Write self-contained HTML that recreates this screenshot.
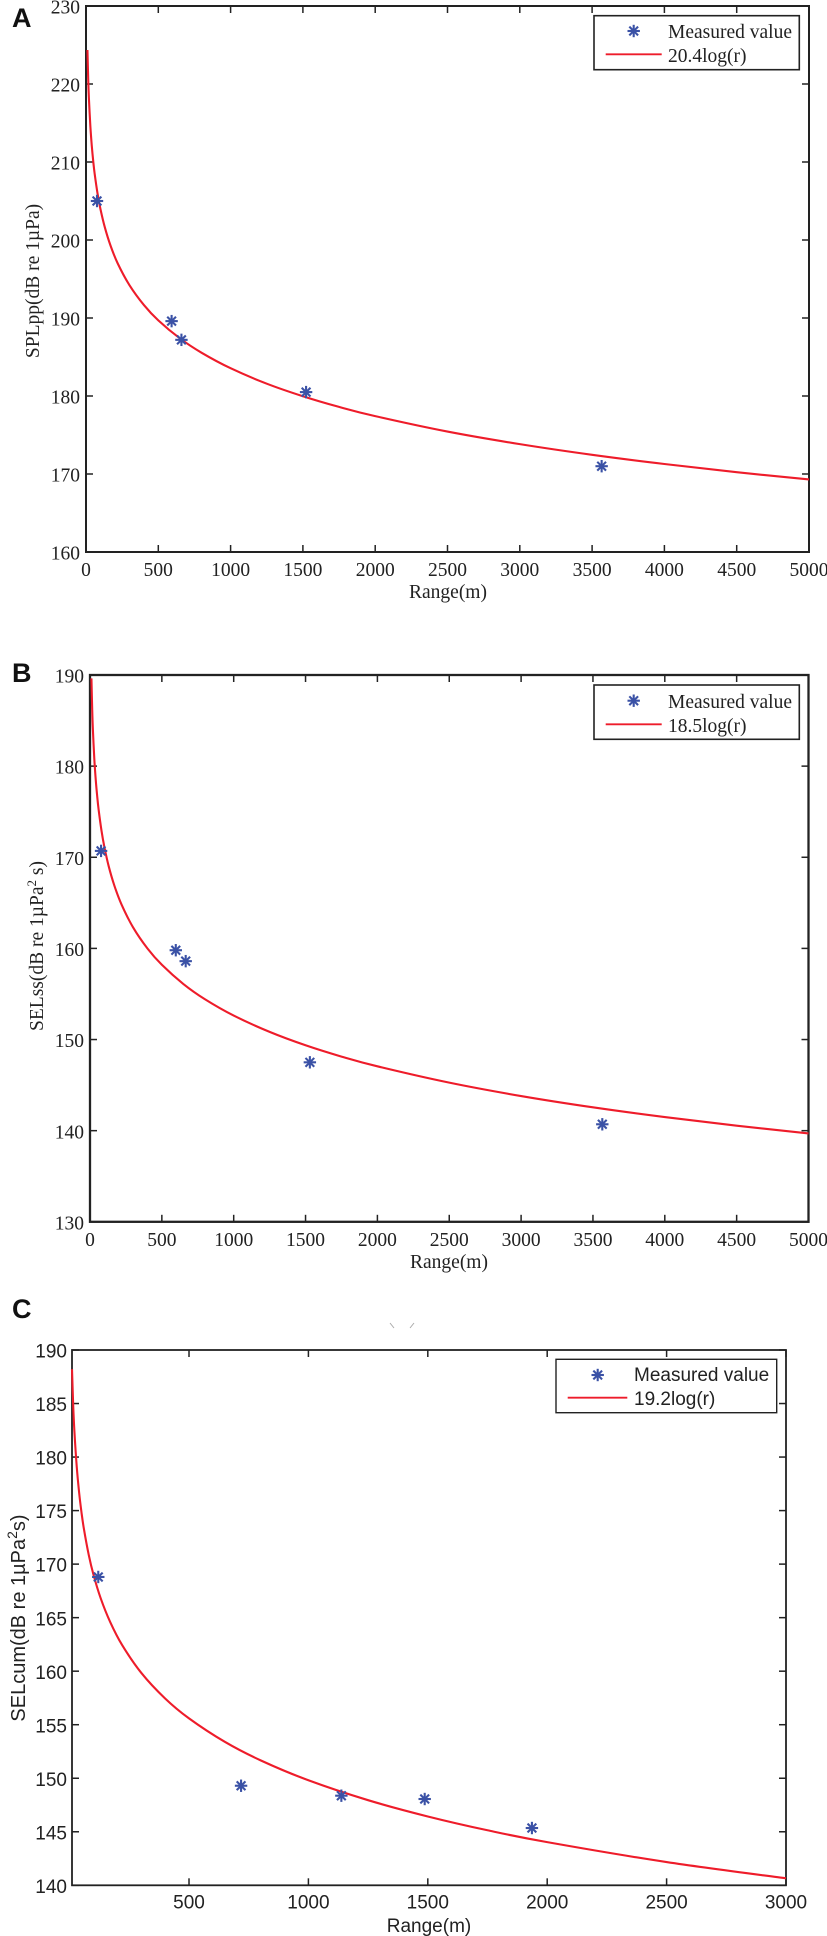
<!DOCTYPE html>
<html lang="en">
<head>
<meta charset="utf-8">
<title>Sound level versus range</title>
<style>
html,body{margin:0;padding:0;background:#fff;}
svg{display:block;}
.serif{font-family:"Liberation Serif",serif;font-size:19.5px;fill:#222;}
.sans{font-family:"Liberation Sans",sans-serif;font-size:19px;fill:#222;}
.panel{font-family:"Liberation Sans",sans-serif;font-size:27px;font-weight:bold;fill:#111;}
</style>
</head>
<body>
<svg id="figure" xmlns="http://www.w3.org/2000/svg" width="827" height="1936" viewBox="0 0 827 1936">
  <rect x="0" y="0" width="827" height="1936" fill="#fff"/>

  <text class="panel" x="12" y="27">A</text>
  <text class="panel" x="12" y="682">B</text>
  <text class="panel" x="12" y="1318">C</text>

  <text class="serif" text-anchor="middle" transform="translate(39,281) rotate(-90)">SPLpp(dB re 1µPa)</text>
  <text class="serif" text-anchor="middle" x="448" y="598">Range(m)</text>

  <text class="serif" text-anchor="middle" transform="translate(43,946) rotate(-90)">SELss(dB re 1µPa<tspan dy="-7" font-size="13">2</tspan><tspan dy="7"> s)</tspan></text>
  <text class="serif" text-anchor="middle" x="449" y="1268">Range(m)</text>

  <text class="sans" text-anchor="middle" style="font-size:20px" transform="translate(25,1618) rotate(-90)">SELcum(dB re 1µPa<tspan dy="-8" font-size="14">2</tspan><tspan dy="8">s)</tspan></text>
  <text class="sans" text-anchor="middle" x="429" y="1932">Range(m)</text>

  <g stroke="#aaa" stroke-width="1">
    <line x1="390" y1="1323" x2="394" y2="1328"/>
    <line x1="414" y1="1323" x2="410" y2="1328"/>
  </g>

  <g id="plot-a"></g>
  <g id="plot-b"></g>
  <g id="plot-c"></g>

  <g id="legend-a">
    <rect x="594" y="15.7" width="205.3" height="54" fill="#fff" stroke="#222" stroke-width="1.6"/>
    <text class="serif" x="668" y="38">Measured value</text>
    <line x1="605.7" y1="54.3" x2="661.7" y2="54.3" stroke="#ee1c2a" stroke-width="1.8"/>
    <text class="serif" x="668" y="62">20.4log(r)</text>
  </g>
  <g id="legend-b">
    <rect x="594" y="685" width="205.3" height="54.3" fill="#fff" stroke="#222" stroke-width="1.6"/>
    <text class="serif" x="668" y="708">Measured value</text>
    <line x1="605.7" y1="724.3" x2="661.7" y2="724.3" stroke="#ee1c2a" stroke-width="1.8"/>
    <text class="serif" x="668" y="732">18.5log(r)</text>
  </g>
  <g id="legend-c">
    <rect x="556" y="1359.3" width="220.7" height="53.4" fill="#fff" stroke="#222" stroke-width="1.4"/>
    <text class="sans" x="634" y="1381">Measured value</text>
    <line x1="567.7" y1="1397.7" x2="627.3" y2="1397.7" stroke="#ee1c2a" stroke-width="1.8"/>
    <text class="sans" x="634" y="1405">19.2log(r)</text>
  </g>
</svg>

<script>
// ---- Chart data ----
const ticksXA = [0, 500, 1000, 1500, 2000, 2500, 3000, 3500, 4000, 4500, 5000];
const ticksYA = [160, 170, 180, 190, 200, 210, 220, 230];
const measuredRangeA = [76, 592, 660, 1522, 3566];
const measuredLevelA = [205, 189.6, 187.2, 180.5, 171];
const curveRangeA = [10, 15, 20, 30, 40, 50, 60, 80, 100, 130, 170, 220, 300, 400, 500, 650, 800, 1000, 1250, 1500, 1750, 2000, 2500, 3000, 3500, 4000, 4500, 5000];
const curveLevelA = [224.36, 220.77, 218.22, 214.63, 212.08, 210.1, 208.48, 205.94, 203.96, 201.64, 199.26, 196.97, 194.23, 191.68, 189.7, 187.38, 185.54, 183.56, 181.58, 179.97, 178.6, 177.42, 175.44, 173.83, 172.46, 171.28, 170.23, 169.3];

const ticksXB = [0, 500, 1000, 1500, 2000, 2500, 3000, 3500, 4000, 4500, 5000];
const ticksYB = [130, 140, 150, 160, 170, 180, 190];
const measuredRangeB = [77, 597, 666, 1530, 3565];
const measuredLevelB = [170.7, 159.8, 158.6, 147.5, 140.7];
const curveRangeB = [10, 15, 20, 30, 40, 50, 60, 80, 100, 130, 170, 220, 300, 400, 500, 650, 800, 1000, 1250, 1500, 1750, 2000, 2500, 3000, 3500, 4000, 4500, 5000];
const curveLevelB = [189.63, 186.37, 184.06, 180.8, 178.49, 176.7, 175.23, 172.92, 171.13, 169.02, 166.87, 164.8, 162.3, 159.99, 158.2, 156.09, 154.42, 152.63, 150.84, 149.37, 148.13, 147.06, 145.27, 143.8, 142.56, 141.49, 140.55, 139.7];

const ticksXC = [500, 1000, 1500, 2000, 2500, 3000];
const ticksYC = [140, 145, 150, 155, 160, 165, 170, 175, 180, 185, 190];
const measuredRangeC = [120, 718, 1138, 1487, 1936];
const measuredLevelC = [168.8, 149.3, 148.37, 148.06, 145.35];
const curveRangeC = [10, 15, 20, 30, 40, 50, 60, 80, 100, 130, 170, 220, 300, 400, 500, 650, 800, 1000, 1250, 1500, 1750, 2000, 2500, 3000];
const curveLevelC = [188.21, 184.83, 182.43, 179.05, 176.65, 174.79, 173.27, 170.87, 169.01, 166.82, 164.59, 162.44, 159.85, 157.45, 155.59, 153.4, 151.67, 149.81, 147.95, 146.43, 145.14, 144.03, 142.17, 140.65];

const SVG_NS = 'http://www.w3.org/2000/svg';

function make(tag, attrs, parent) {
  const node = document.createElementNS(SVG_NS, tag);
  for (const key in attrs) node.setAttribute(key, attrs[key]);
  parent.appendChild(node);
  return node;
}

function scale(d0, d1, r0, r1) {
  return function (v) { return r0 + (v - d0) / (d1 - d0) * (r1 - r0); };
}

function drawStar(parent, cx, cy) {
  const star = make('g', { stroke: '#3b52a6', 'stroke-width': 2.1, 'stroke-linecap': 'butt' }, parent);
  
  
  const r = 6.2;
  [90, 45, 135, 0].forEach(function (deg) {
    const a = deg * Math.PI / 180;
    make('line', {
      x1: cx - r * Math.cos(a), y1: cy - r * Math.sin(a),
      x2: cx + r * Math.cos(a), y2: cy + r * Math.sin(a)
    }, star);
  });
}

// Smooth path running through every [x, y] pixel point (Catmull-Rom to Bezier)
function smoothPath(pts) {
  let d = 'M' + pts[0][0].toFixed(2) + ' ' + pts[0][1].toFixed(2);
  for (let i = 0; i < pts.length - 1; i++) {
    const p0 = pts[Math.max(i - 1, 0)];
    const p1 = pts[i];
    const p2 = pts[i + 1];
    const p3 = pts[Math.min(i + 2, pts.length - 1)];
    const c1x = p1[0] + (p2[0] - p0[0]) / 6;
    const c1y = p1[1] + (p2[1] - p0[1]) / 6;
    const c2x = p2[0] - (p3[0] - p1[0]) / 6;
    const c2y = p2[1] - (p3[1] - p1[1]) / 6;
    d += 'C' + c1x.toFixed(2) + ' ' + c1y.toFixed(2) + ' ' + c2x.toFixed(2) + ' ' + c2y.toFixed(2) + ' ' + p2[0].toFixed(2) + ' ' + p2[1].toFixed(2);
  }
  return d;
}

function drawChart(p) {
  const root = document.getElementById(p.id);
  const xOf = scale(p.xMin, p.xMax, p.left, p.right);
  const yOf = scale(p.yMin, p.yMax, p.bottom, p.top);

  const frame = make('rect', {
    x: p.left, y: p.top, width: p.right - p.left, height: p.bottom - p.top,
    fill: 'none', stroke: '#222', 'stroke-width': p.spine
  }, root);
  
  

  p.ticksX.forEach(function (v) {
    const x = xOf(v);
    const tickLow = make('line', { x1: x, y1: p.bottom, x2: x, y2: p.bottom - 7, stroke: '#222', 'stroke-width': 1.5 }, root);
    
    
    const tickHigh = make('line', { x1: x, y1: p.top, x2: x, y2: p.top + 7, stroke: '#222', 'stroke-width': 1.5 }, root);
    
    
    const label = make('text', { x: x, y: p.bottom + p.xLabelGap, 'text-anchor': 'middle', class: p.fontClass }, root);
    
    
    label.textContent = v;
  });

  p.ticksY.forEach(function (v) {
    const y = yOf(v);
    const tickLeft = make('line', { x1: p.left, y1: y, x2: p.left + 7, y2: y, stroke: '#222', 'stroke-width': 1.5 }, root);
    
    
    const tickRight = make('line', { x1: p.right, y1: y, x2: p.right - 7, y2: y, stroke: '#222', 'stroke-width': 1.5 }, root);
    
    
    const label = make('text', { x: p.left - p.yLabelGap, y: y + 7.6, 'text-anchor': 'end', class: p.fontClass }, root);
    
    
    label.textContent = v;
  });

  const pts = p.curveX.map(function (v, i) {
    return [xOf(v), yOf(p.curveY[i])];
  });
  const curve = make('path', {
    d: smoothPath(pts), fill: 'none', stroke: '#ee1c2a', 'stroke-width': 2.1, 'stroke-linejoin': 'round'
  }, root);
  
  

  p.pointX.forEach(function (v, i) {
    drawStar(root, xOf(v), yOf(p.pointY[i]));
  });

  drawStar(document.getElementById(p.legendId), p.legendStarX, p.legendStarY);
}

drawChart({
  id: 'plot-a', legendId: 'legend-a', legendStarX: 633.7, legendStarY: 31,
  left: 86, right: 809, top: 6, bottom: 552, spine: 2,
  xMin: 0, xMax: 5000, yMin: 160, yMax: 230,
  ticksX: ticksXA, ticksY: ticksYA,
  pointX: measuredRangeA, pointY: measuredLevelA,
  curveX: curveRangeA, curveY: curveLevelA,
  fontClass: 'serif', xLabelGap: 24, yLabelGap: 6
});

drawChart({
  id: 'plot-b', legendId: 'legend-b', legendStarX: 633.7, legendStarY: 700.7,
  left: 90, right: 808.5, top: 675, bottom: 1221.8, spine: 2.3,
  xMin: 0, xMax: 5000, yMin: 130, yMax: 190,
  ticksX: ticksXB, ticksY: ticksYB,
  pointX: measuredRangeB, pointY: measuredLevelB,
  curveX: curveRangeB, curveY: curveLevelB,
  fontClass: 'serif', xLabelGap: 24, yLabelGap: 6
});

drawChart({
  id: 'plot-c', legendId: 'legend-c', legendStarX: 597.7, legendStarY: 1375,
  left: 72, right: 786, top: 1350, bottom: 1885.3, spine: 1.8,
  xMin: 10, xMax: 3000, yMin: 140, yMax: 190,
  ticksX: ticksXC, ticksY: ticksYC,
  pointX: measuredRangeC, pointY: measuredLevelC,
  curveX: curveRangeC, curveY: curveLevelC,
  fontClass: 'sans', xLabelGap: 23, yLabelGap: 5
});

// Legends sit on top of the plotted marks
const figure = document.getElementById('figure');
['legend-a', 'legend-b', 'legend-c'].forEach(function (id) {
  figure.appendChild(document.getElementById(id));
});
</script>
</body>
</html>
